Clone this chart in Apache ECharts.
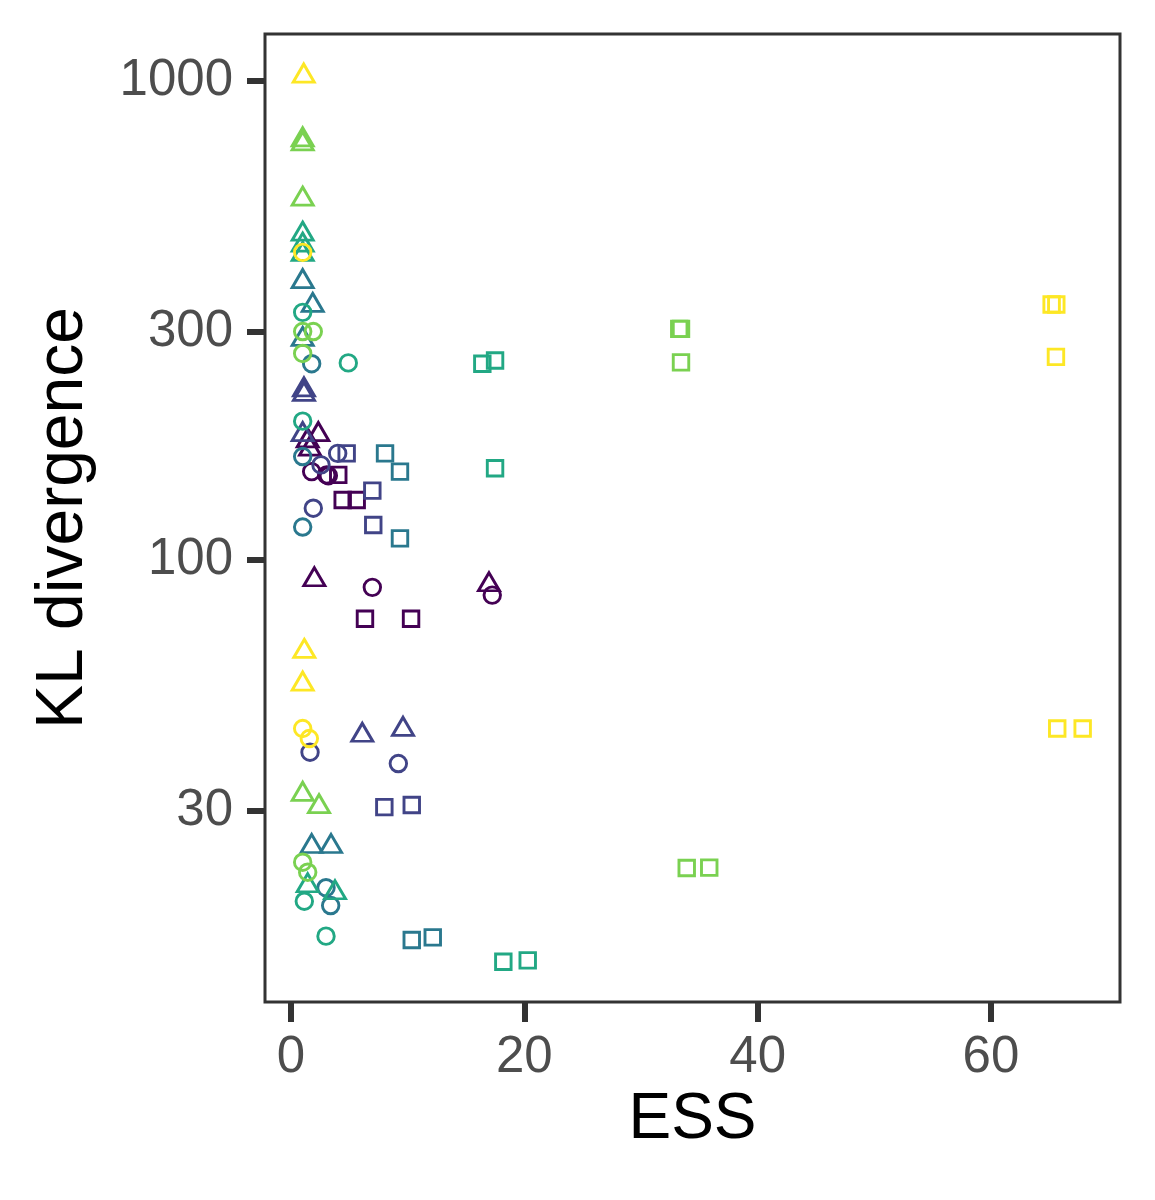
<!DOCTYPE html>
<html>
<head>
<meta charset="utf-8">
<script src="https://cdn.jsdelivr.net/npm/echarts@6/dist/echarts.min.js"></script>
<style>
html,body{margin:0;padding:0;background:#fff;}
#chart{width:1155px;height:1200px;}
</style>
</head>
<body>
<div id="chart"></div>
<script>
// ---- data: [ESS, KL divergence] ----
const purpleTri   = [[2.34,185.5],[1.43,180],[1.63,173],[2.0,92.3],[16.97,90.1]];
const purpleCirc  = [[1.77,153],[3.06,150.6],[3.2,150],[6.97,87.7],[17.25,84.5]];
const purpleSq    = [[4.05,150.6],[4.43,133.5],[5.63,133.5],[6.34,75.4],[10.29,75.4]];

const indigoTri   = [[1.11,230],[1.11,225],[1.0,185.5],[6.11,43.7],[9.6,44.96]];
const indigoCirc  = [[4.0,167],[2.57,158],[1.91,128.3],[1.63,39.7],[9.2,37.6]];
const indigoSq    = [[4.77,167],[6.97,139.6],[7.05,118.4],[8.0,30.5],[10.35,30.8]];

const tealTri     = [[1.0,387],[1.86,345],[1.0,293],[1.77,25.6],[3.43,25.6]];
const tealCirc    = [[1.77,257],[1.0,164.5],[1.0,117.2],[3.0,20.7],[3.4,19.0]];
const tealSq      = [[8.06,167],[9.34,153],[9.34,111],[10.35,16.1],[12.15,16.3]];

const greenTri    = [[1.0,486],[1.0,461],[1.0,441],[1.43,21.2],[3.77,20.5]];
const greenCirc   = [[1.0,329],[4.91,258],[1.0,195],[1.14,19.4],[3.0,16.4]];
const greenSq     = [[16.4,257],[17.49,261],[17.49,155.5],[18.2,14.5],[20.29,14.6]];

const limeTri     = [[1.0,765],[1.0,750],[1.0,575],[1.0,32.9],[2.4,31.0]];
const limeCirc    = [[1.0,300],[1.91,300],[1.0,270],[1.0,23.4],[1.43,22.3]];
const limeSq      = [[33.28,303.8],[33.43,303.8],[33.43,258.7],[33.92,22.75],[35.85,22.8]];

const yellowTri   = [[1.09,1039],[1.14,65.4],[1.0,55.9]];
const yellowCirc  = [[1.0,439],[1.0,44.5],[1.57,42.4]];
const yellowSq    = [[65.2,341.6],[65.6,341.6],[65.57,265.6],[65.68,44.5],[67.86,44.5]];

const xTicks = [0, 20, 40, 60];
const yTicks = [30, 100, 300, 1000];

// ---- build chart ----
const groups = [
  ['#440154', purpleTri, purpleCirc, purpleSq],
  ['#414487', indigoTri, indigoCirc, indigoSq],
  ['#2A788E', tealTri, tealCirc, tealSq],
  ['#22A884', greenTri, greenCirc, greenSq],
  ['#7AD151', limeTri, limeCirc, limeSq],
  ['#FDE725', yellowTri, yellowCirc, yellowSq]
];
const shapes = [
  {symbol:'triangle', size:[21,18]},
  {symbol:'circle', size:16.5},
  {symbol:'rect', size:15.5}
];
const series = [];
groups.forEach(g => {
  for (let s = 0; s < 3; s++) {
    series.push({
      type:'scatter',
      data:g[s+1],
      symbol:shapes[s].symbol,
      symbolSize:shapes[s].size,
      itemStyle:{color:'rgba(0,0,0,0)', borderColor:g[0], borderWidth:2.9, opacity:1},
      emphasis:{disabled:true},
      silent:true,
      animation:false
    });
  }
});

const font = 'Liberation Sans, Arial, Helvetica, sans-serif';
const chart = echarts.init(document.getElementById('chart'), null, {renderer:'canvas'});
chart.setOption({
  backgroundColor:'#ffffff',
  animation:false,
  grid:{left:265, right:35, top:34, bottom:198, show:true, borderColor:'#333333', borderWidth:3, backgroundColor:'#ffffff', containLabel:false},
  xAxis:{
    type:'value', min:-2.23, max:71.06,
    name:'ESS', nameLocation:'middle', nameGap:86,
    nameTextStyle:{color:'#000000', fontSize:64, fontFamily:font},
    axisLine:{show:false, onZero:false},
    splitLine:{show:false},
    axisTick:{show:true, inside:false, length:20, customValues:xTicks, lineStyle:{color:'#333333', width:6}},
    axisLabel:{show:true, customValues:xTicks, margin:30, color:'#4D4D4D', fontSize:51, fontFamily:font,
      formatter:v => String(Math.round(v))}
  },
  yAxis:{
    type:'log', logBase:10, min:11.95, max:1254,
    name:'KL divergence', nameLocation:'middle', nameGap:168,
    nameTextStyle:{color:'#000000', fontSize:66, fontFamily:font},
    axisLine:{show:false, onZero:false},
    splitLine:{show:false},
    axisTick:{show:true, inside:false, length:18, customValues:yTicks, lineStyle:{color:'#333333', width:6}},
    axisLabel:{show:true, customValues:yTicks, margin:32, color:'#4D4D4D', fontSize:51, fontFamily:font,
      formatter:v => String(Math.round(v))}
  },
  series:series
});
</script>
</body>
</html>
